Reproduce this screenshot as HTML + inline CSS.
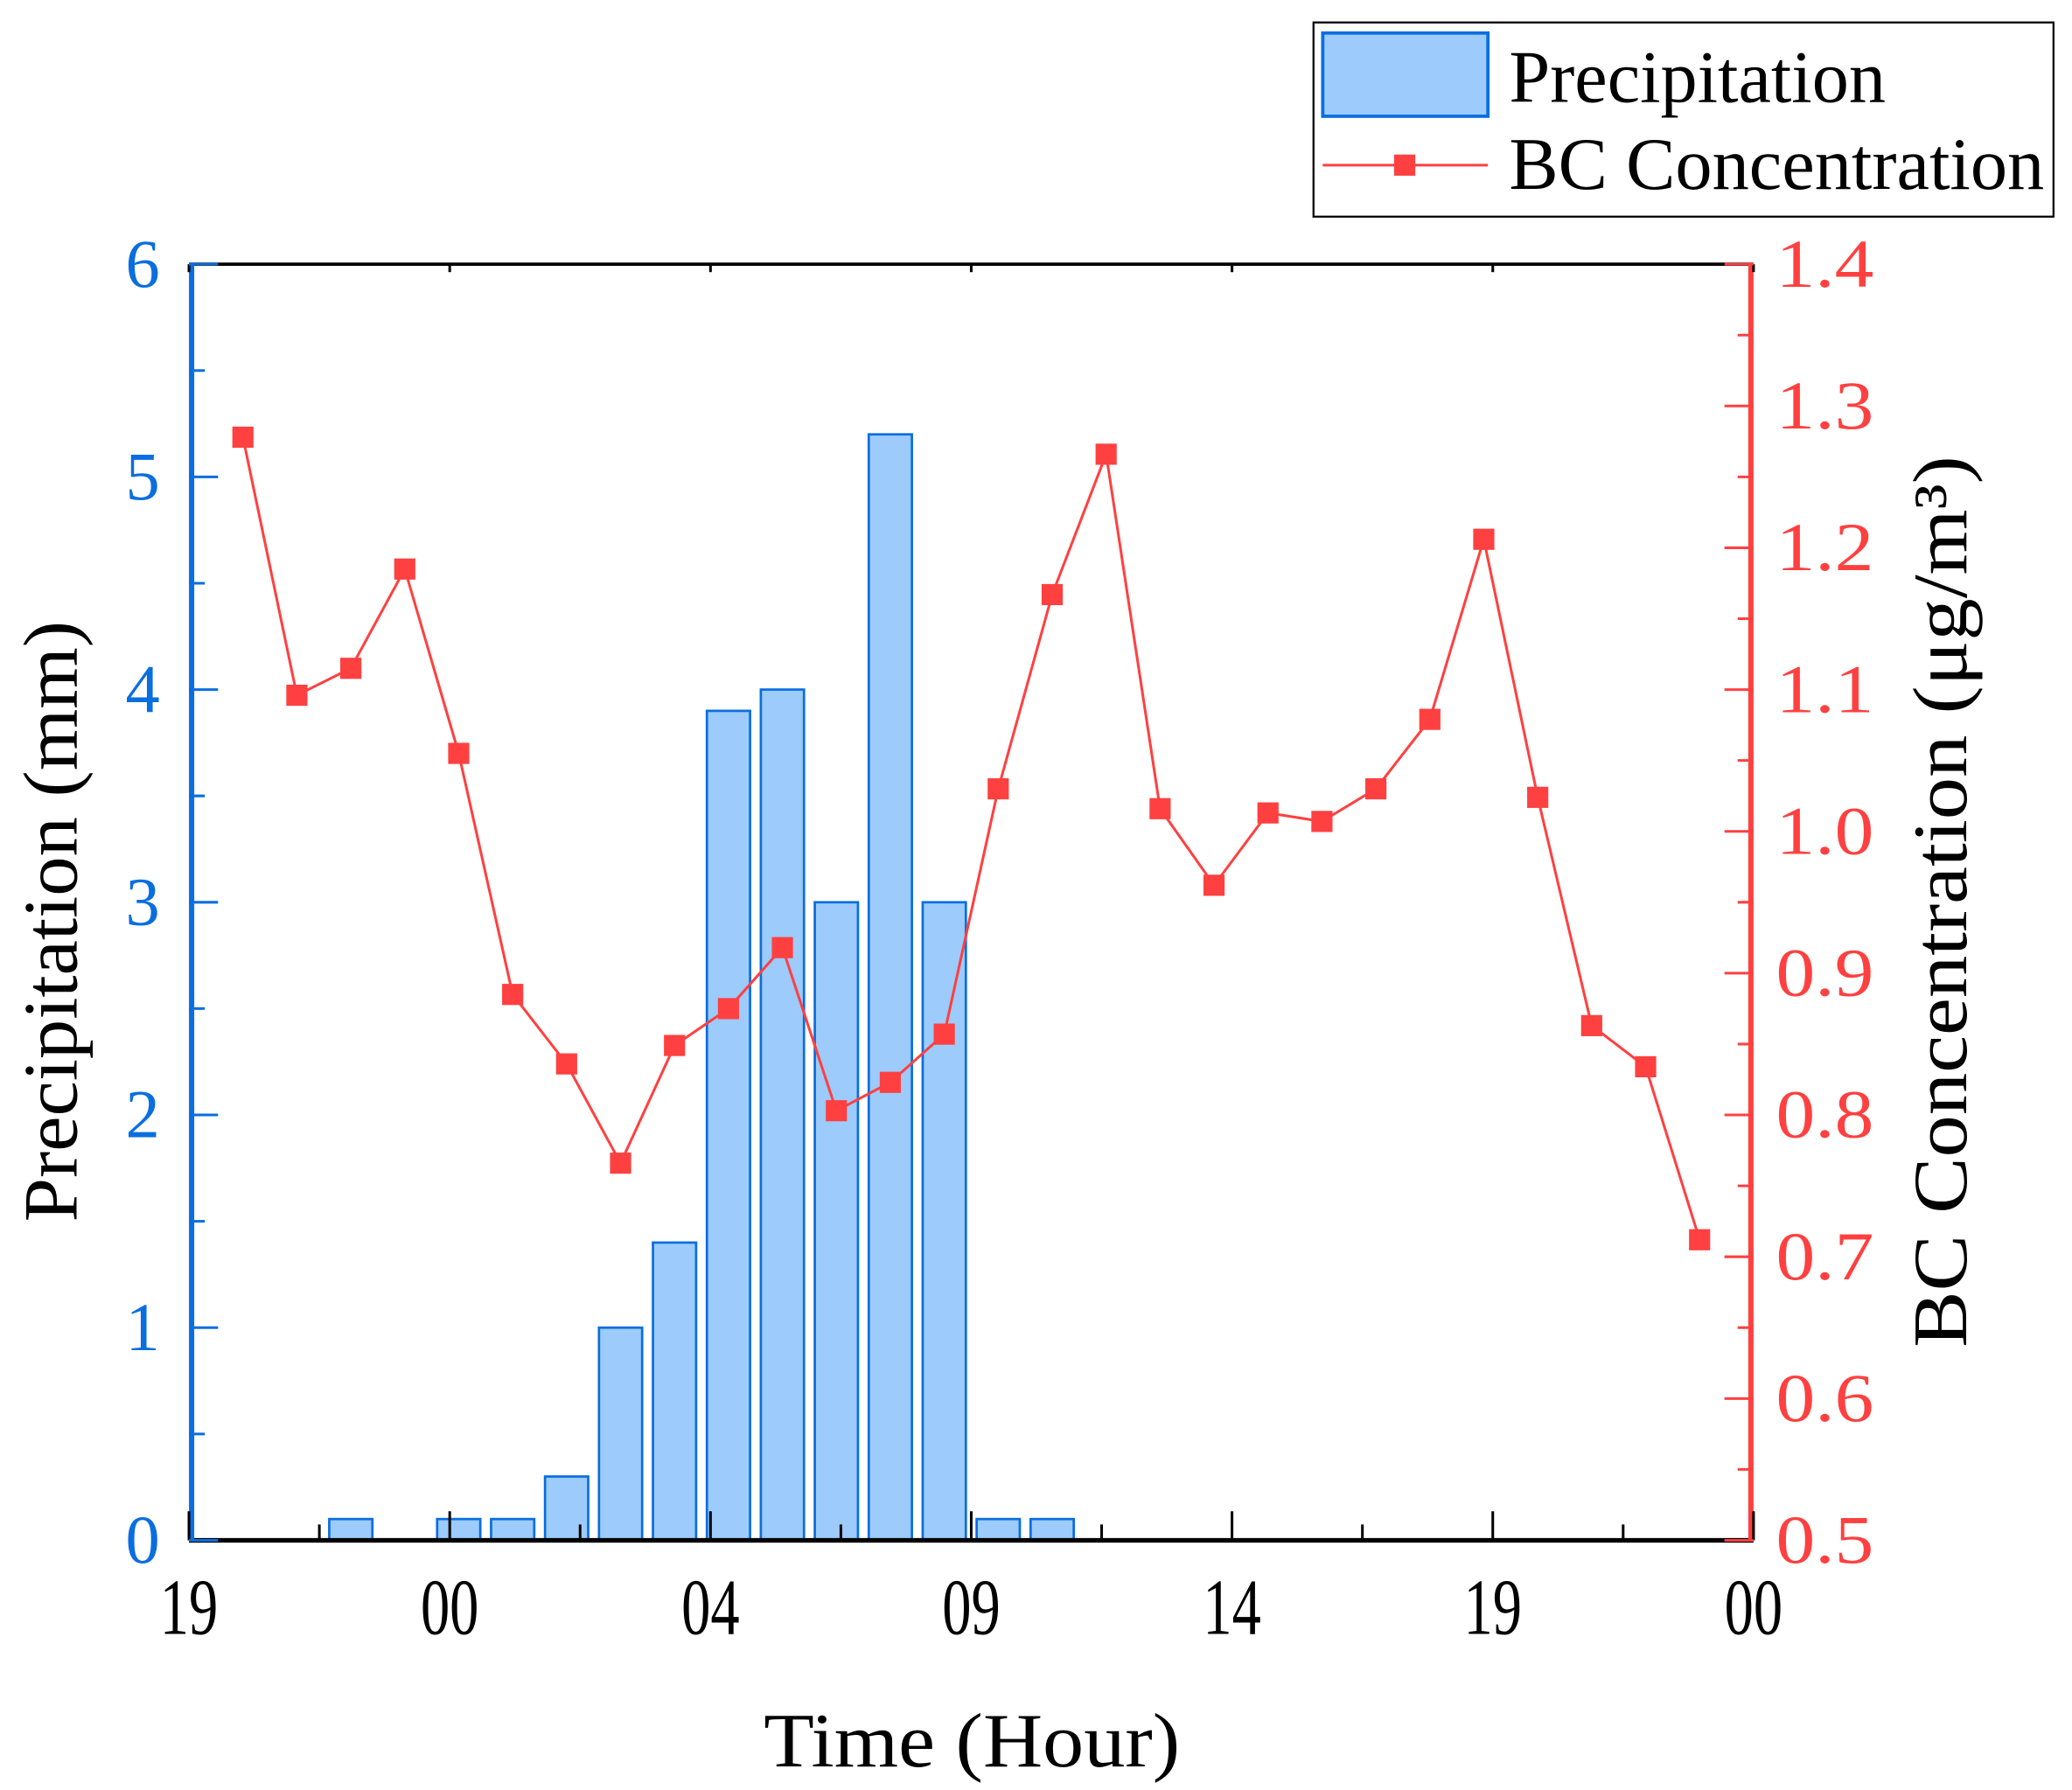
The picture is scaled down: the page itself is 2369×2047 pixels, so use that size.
<!DOCTYPE html>
<html><head><meta charset="utf-8"><style>
html,body{margin:0;padding:0;background:#fff}
svg{display:block}
text{font-family:"Liberation Serif",serif}
</style></head><body>
<svg id="chart" width="2369" height="2047" viewBox="0 0 1568 1355" preserveAspectRatio="none" xmlns="http://www.w3.org/2000/svg">
<rect width="1568" height="1355" fill="#fff"/>
<g id="bars"></g>
<g id="line"></g>
<g id="axes"></g>
<g>
<rect x="994" y="17" width="560" height="147" fill="#fff" stroke="#000" stroke-width="1.5"/>
<rect x="1001" y="25" width="125" height="63" fill="#9ccbfc" stroke="#0a6ee0" stroke-width="2.5"/>
<text x="1142" y="77" font-size="56" textLength="285" lengthAdjust="spacingAndGlyphs">Precipitation</text>
<line x1="1001" y1="125" x2="1126" y2="125" stroke="#ff4040" stroke-width="2"/>
<rect x="1055" y="117" width="16" height="16" fill="#ff4040"/>
<text x="1142" y="143" font-size="56" textLength="405" lengthAdjust="spacingAndGlyphs">BC Concentration</text>
</g>
<text x="578" y="1337" font-size="58" textLength="315" lengthAdjust="spacingAndGlyphs">Time (Hour)</text>
<text transform="translate(58,925) rotate(-90)" font-size="58" textLength="455" lengthAdjust="spacingAndGlyphs">Precipitation (mm)</text>
<text transform="translate(1488,1020) rotate(-90)" font-size="58" textLength="675" lengthAdjust="spacingAndGlyphs">BC Concentration (μg/m³)</text>
</svg>
<script>
const precipIdx = [2,4,5,6,7,8,9,10,11,12,13,14,15];
const precipVals = [0.1,0.1,0.1,0.3,1.0,1.4,3.9,4.0,3.0,5.2,3.0,0.1,0.1];
const bcVals = [1.278,1.096,1.115,1.185,1.055,0.885,0.836,0.766,0.849,0.875,0.918,0.803,0.823,0.857,1.030,1.167,1.266,1.016,0.962,1.013,1.007,1.030,1.079,1.206,1.024,0.863,0.834,0.712];
const xTickLabels = ["19","00","04","09","14","19","00"];
const leftTicks = [0,1,2,3,4,5,6];
const rightTicks = ["0.5","0.6","0.7","0.8","0.9","1.0","1.1","1.2","1.3","1.4"];

const L=143,R=1327,T=200,B=1166;
const xs=i=>L+(R-L)/29*(i+1);
const yl=v=>B-(B-T)*v/6;
const yr=v=>B-(B-T)*(v-0.5)/0.9;
const NS="http://www.w3.org/2000/svg";
function mk(tag,attrs,parent){const e=document.createElementNS(NS,tag);for(const k in attrs)e.setAttribute(k,attrs[k]);parent.appendChild(e);return e;}
const bars=document.getElementById('bars'),line=document.getElementById('line'),axes=document.getElementById('axes');
const bw=(R-L)/29*0.8;
precipIdx.forEach((idx,j)=>{
  const r=mk('rect',{x:xs(idx)-bw/2,y:yl(precipVals[j]),width:bw,height:B-yl(precipVals[j]),fill:'#9ccbfc',stroke:'#0a6ee0','stroke-width':1.8},bars);
  
  
});
const pl=mk('polyline',{points:bcVals.map((v,i)=>xs(i)+','+yr(v)).join(' '),fill:'none',stroke:'#ff4040','stroke-width':2},line);


bcVals.forEach((v,i)=>{
  const m=mk('rect',{x:xs(i)-8,y:yr(v)-8,width:16,height:16,fill:'#ff4040'},line);
  
  
});
mk('line',{x1:L,y1:T,x2:R,y2:T,stroke:'#000','stroke-width':2.5},axes);
mk('line',{x1:L,y1:B,x2:R,y2:B,stroke:'#000','stroke-width':3.5},axes);
mk('line',{x1:L+2,y1:T-1,x2:L+2,y2:B+1,stroke:'#0a6ee0','stroke-width':4},axes);
mk('line',{x1:R-2,y1:T-1,x2:R-2,y2:B+1,stroke:'#ff4040','stroke-width':4},axes);
const step=(R-L)/6;
for(let k=0;k<=12;k++){
  const x=L+step/2*k, len=k%2?12:22;
  mk('line',{x1:x,y1:B,x2:x,y2:B-len,stroke:'#000','stroke-width':2},axes);
  mk('line',{x1:x,y1:T,x2:x,y2:T+(k%2?0:6),stroke:'#000','stroke-width':2},axes);
}
xTickLabels.forEach((s,k)=>{
  const t=mk('text',{x:L+step*k,y:1237,'font-size':60,'text-anchor':'middle',textLength:44,lengthAdjust:'spacingAndGlyphs'},axes);
  t.textContent=s;
  
  
});
for(let k=0;k<=12;k++){const v=k/2;mk('line',{x1:L,y1:yl(v),x2:L+(k%2?12:22),y2:yl(v),stroke:'#0a6ee0','stroke-width':2},axes);}
leftTicks.forEach(v=>{
  const t=mk('text',{x:121,y:yl(v)+17,'font-size':52,'text-anchor':'end',fill:'#0a6ee0'},axes);
  t.textContent=v;
  
  
});
for(let k=0;k<=18;k++){const v=0.5+k*0.05;mk('line',{x1:R,y1:yr(v),x2:R-(k%2?12:22),y2:yr(v),stroke:'#ff4040','stroke-width':2},axes);}
rightTicks.forEach(s=>{
  const t=mk('text',{x:1344,y:yr(parseFloat(s))+17,'font-size':52,fill:'#ff4040',textLength:74,lengthAdjust:'spacingAndGlyphs'},axes);
  t.textContent=s;
  
  
});
</script>
</body></html>
